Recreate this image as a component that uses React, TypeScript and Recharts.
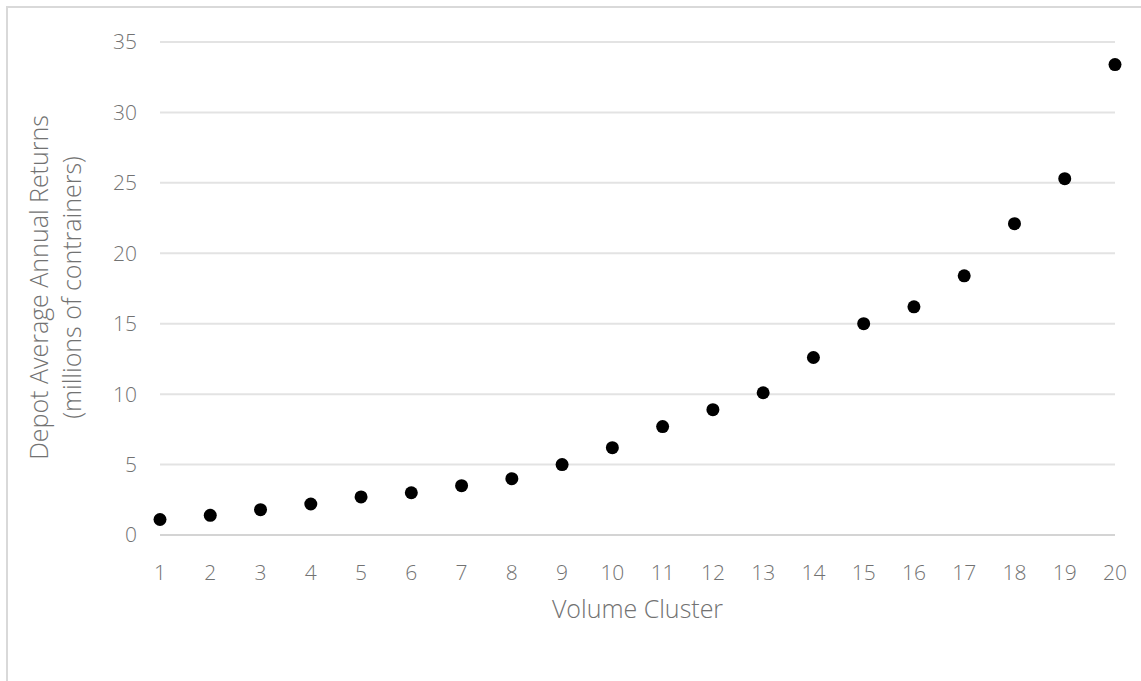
import React from "react";
import {
  ScatterChart,
  Scatter,
  XAxis,
  YAxis,
  CartesianGrid,
  ReferenceLine,
  Label,
} from "recharts";

const clusters = [1, 2, 3, 4, 5, 6, 7, 8, 9, 10, 11, 12, 13, 14, 15, 16, 17, 18, 19, 20];
const avgReturns = [
  1.1, 1.4, 1.8, 2.2, 2.7, 3.0, 3.5, 4.0, 5.0, 6.2,
  7.7, 8.9, 10.1, 12.6, 15.0, 16.2, 18.4, 22.1, 25.3, 33.4,
];
const yTicks = [0, 5, 10, 15, 20, 25, 30, 35];
const yTitle = ["Depot Average Annual Returns", "(millions of contrainers)"];
const xTitle = "Volume Cluster";

const data = clusters.map((c, i) => ({ cluster: c, value: avgReturns[i] }));

const FONT = "'Open Sans', 'Noto Sans', sans-serif";
const GRAY = "#727272";

const YTitle = ({ viewBox }: any) => {
  const cy = viewBox.y + viewBox.height / 2 - 1;
  return (
    <g>
      {yTitle.map((t, i) => {
        const x = 38 + i * 33;
        return (
          <text
            key={t}
            x={x}
            y={cy}
            transform={`rotate(-90, ${x}, ${cy})`}
            textAnchor="middle"
            dominantBaseline="central"
            fill={GRAY}
            fontSize={25}
            fontWeight={300}
            fontFamily={FONT}
          >
            {t}
          </text>
        );
      })}
    </g>
  );
};

const Dot = (props: any) => <circle cx={props.cx} cy={props.cy} r={6.5} fill="#000" />;

export default function App() {
  return (
    <div style={{ position: "absolute", left: 0, top: 0, width: 1141, height: 681, background: "#fff" }}>
      <div
        style={{
          position: "absolute",
          left: 6,
          top: 6,
          right: 0,
          bottom: 0,
          borderLeft: "2px solid #d9d9d9",
          borderTop: "2px solid #d9d9d9",
        }}
      />
      <ScatterChart
        width={1141}
        height={681}
        margin={{ top: 42, right: 26, bottom: 116, left: 100 }}
        style={{ position: "absolute", left: 0, top: 0 }}
      >
        <CartesianGrid horizontal vertical={false} stroke="#e3e3e3" strokeWidth={2} />
        <XAxis
          type="number"
          dataKey="cluster"
          domain={[1, 20]}
          ticks={clusters}
          interval={0}
          axisLine={false}
          tickLine={false}
          tickMargin={24}
          height={30}
          tick={{ fill: GRAY, fontSize: 21, fontFamily: FONT, fontWeight: 300 }}
        >
          <Label
            value={xTitle}
            position="bottom"
            offset={35}
            fill={GRAY}
            fontSize={25}
            fontFamily={FONT}
            fontWeight={300}
          />
        </XAxis>
        <YAxis
          type="number"
          dataKey="value"
          domain={[0, 35]}
          ticks={yTicks}
          interval={0}
          axisLine={false}
          tickLine={false}
          tickMargin={17}
          width={60}
          tick={{ fill: GRAY, fontSize: 21, fontFamily: FONT, fontWeight: 300 }}
        >
          <Label content={<YTitle />} />
        </YAxis>
        <ReferenceLine y={0} stroke="#d4d4d4" strokeWidth={2} />
        <Scatter data={data} shape={<Dot />} isAnimationActive={false} />
      </ScatterChart>
    </div>
  );
}
